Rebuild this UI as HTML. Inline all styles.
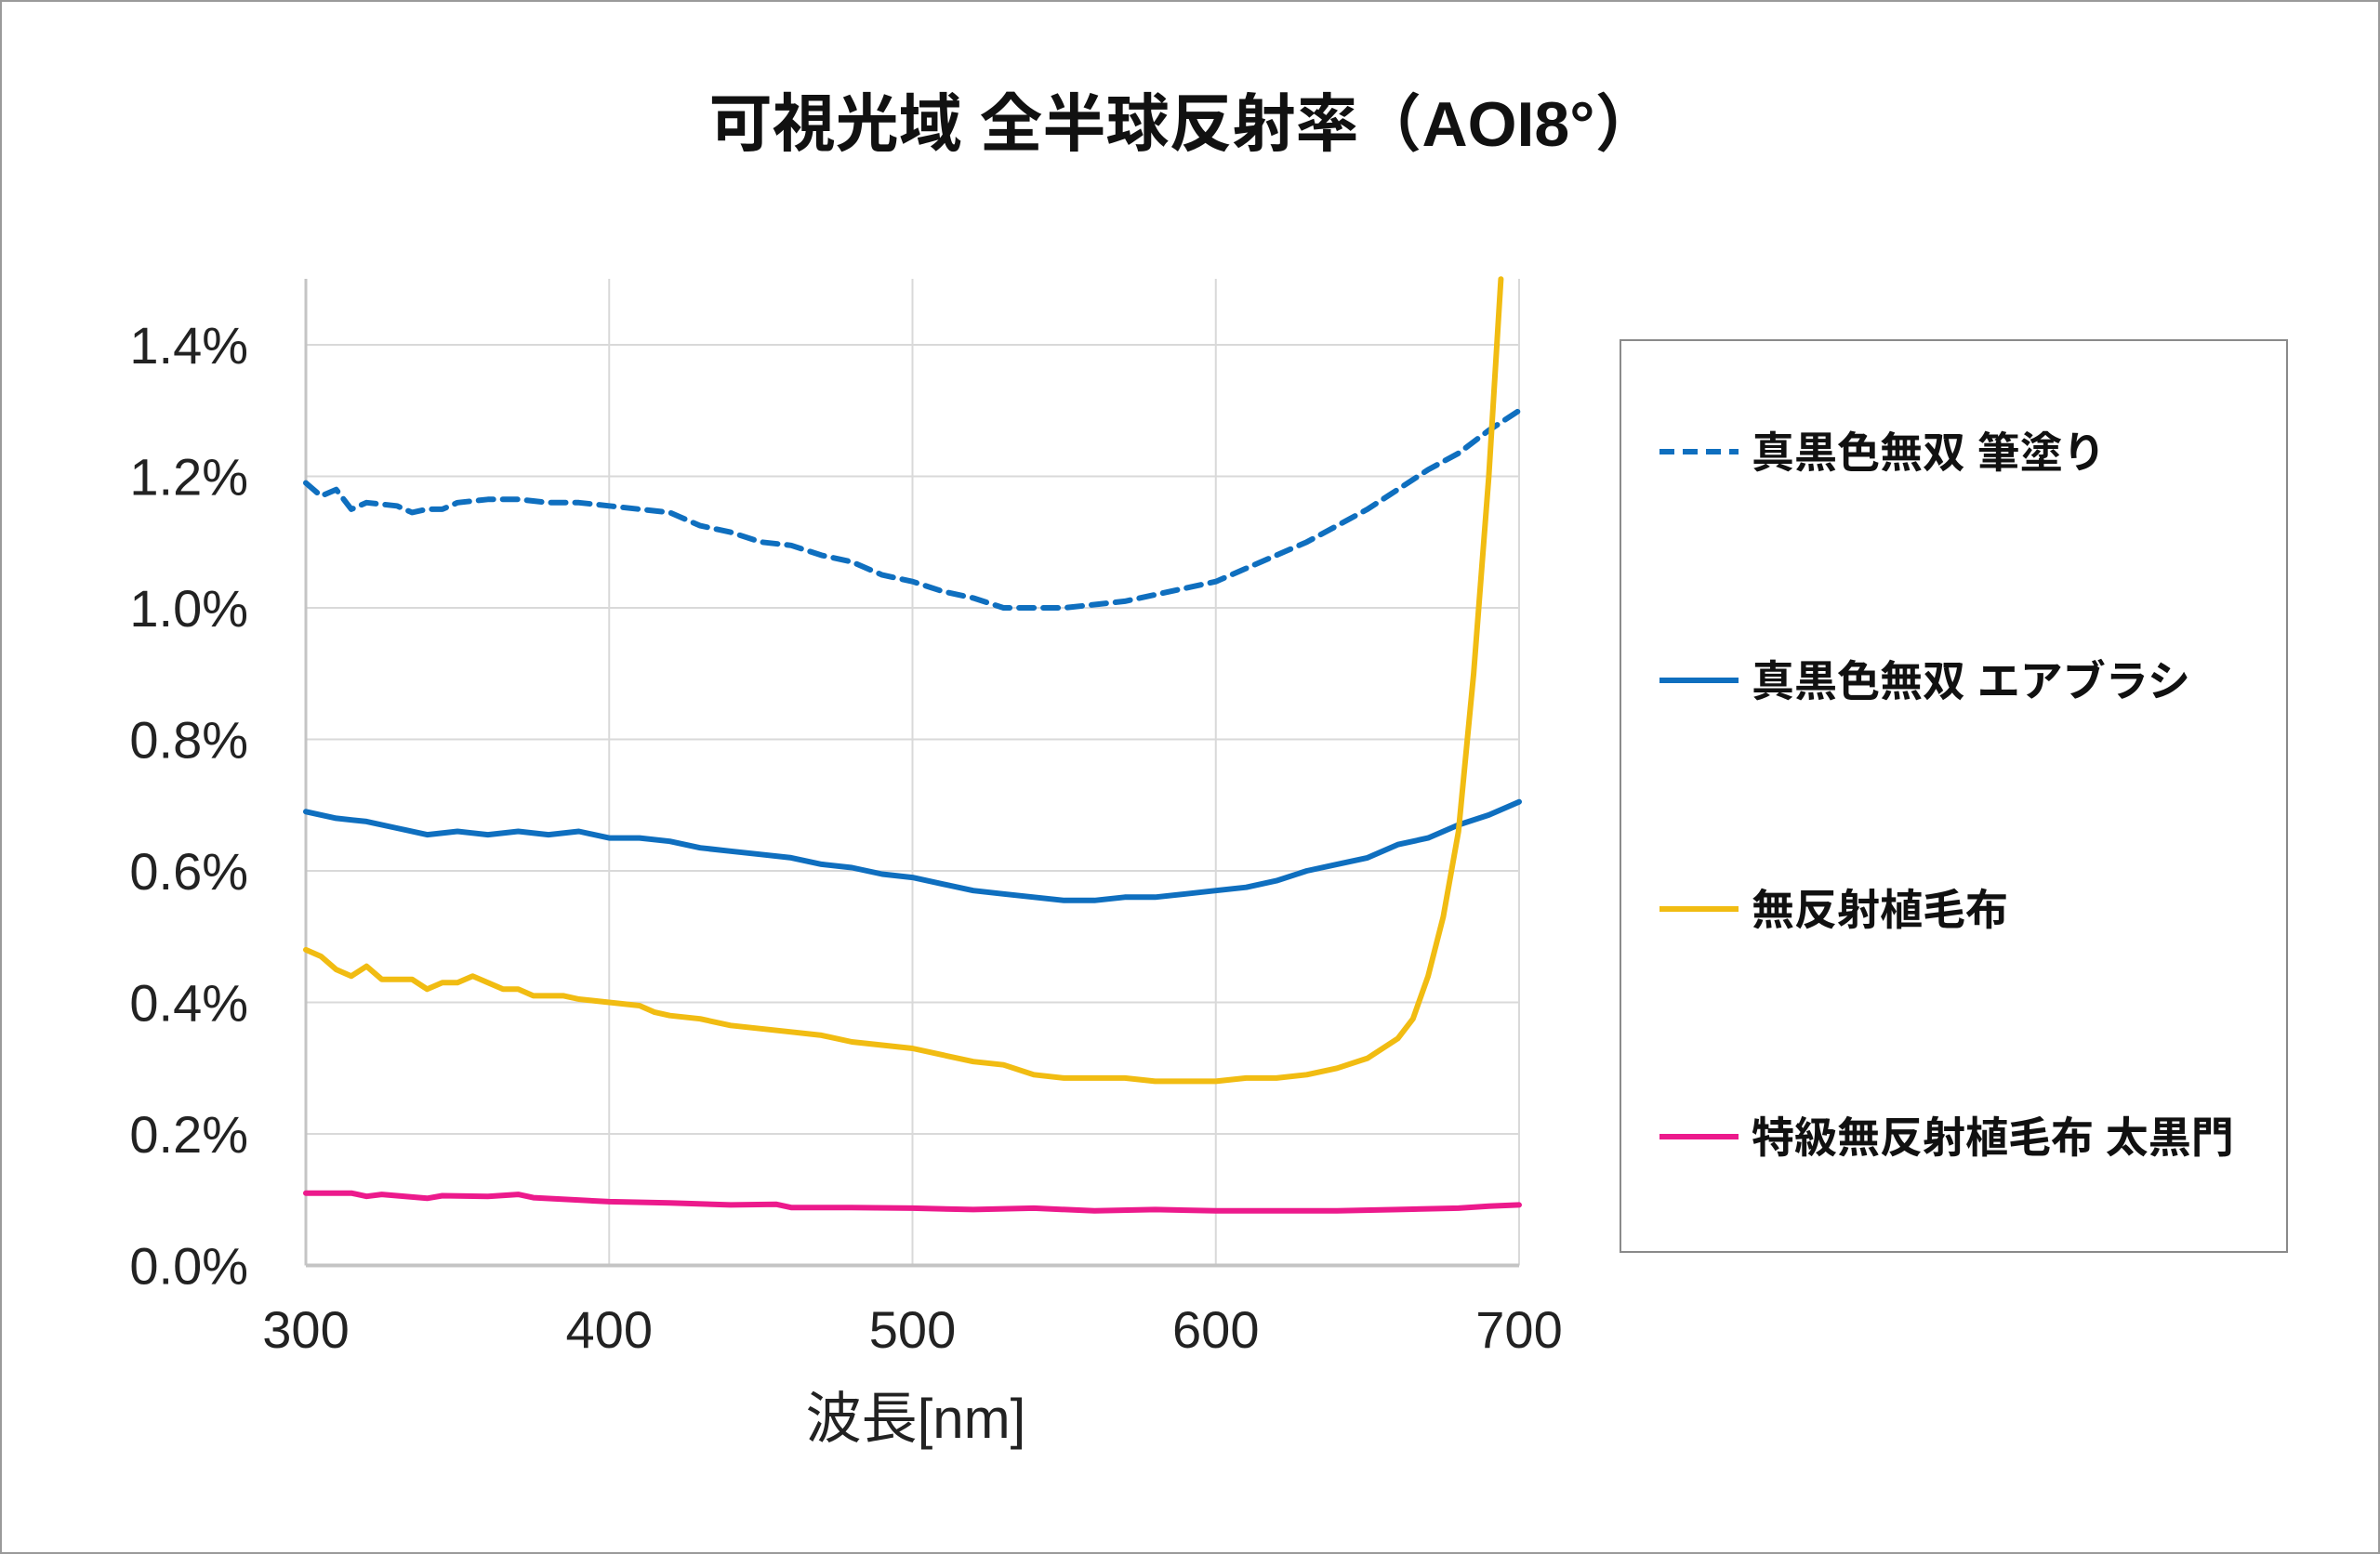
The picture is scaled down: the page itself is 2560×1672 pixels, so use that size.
<!DOCTYPE html>
<html><head><meta charset="utf-8"><style>
html,body{margin:0;padding:0;background:#fff}
svg{display:block}
</style></head><body>
<svg id="s" width="2560" height="1672" xmlns="http://www.w3.org/2000/svg" font-family="'Liberation Sans','Noto Sans CJK JP',sans-serif">
<rect x="1" y="1" width="2558" height="1670" fill="#fff" stroke="#9a9a9a" stroke-width="2"/>
<text x="1273" y="157" text-anchor="middle" font-size="68" font-weight="bold" fill="#111">可視光域 全半球反射率（AOI8°）</text>
<g id="grid" stroke="#d9d9d9" stroke-width="2"></g>
<g id="lbl" font-size="56" fill="#222"></g>
<text x="985" y="1547" text-anchor="middle" font-size="60" fill="#222">波長[nm]</text>
<g id="series" fill="none" stroke-linejoin="round" stroke-linecap="round"></g>
<rect x="1743" y="366" width="717" height="981" fill="none" stroke="#8a8a8a" stroke-width="2"/>
<g font-size="46" font-weight="bold" fill="#111">
<line x1="1785" y1="486" x2="1870" y2="486" stroke="#0f6fbf" stroke-width="6" stroke-dasharray="16,9"/>
<text x="1884" y="503">真黒色無双 筆塗り</text>
<line x1="1785" y1="732" x2="1870" y2="732" stroke="#0f6fbf" stroke-width="6"/>
<text x="1884" y="749">真黒色無双 エアブラシ</text>
<line x1="1785" y1="978" x2="1870" y2="978" stroke="#f1bc12" stroke-width="6"/>
<text x="1884" y="995">無反射植毛布</text>
<line x1="1785" y1="1223" x2="1870" y2="1223" stroke="#ec1a8c" stroke-width="6"/>
<text x="1884" y="1240">特級無反射植毛布 太黒門</text>
</g>
</svg>
<script>
var NS="http://www.w3.org/2000/svg";
var L=329,R=1634,Y0=1361.5,K=707.5;
function X(n){return L+(n-300)*(R-L)/400}
function Y(v){return Y0-v*K}
function el(t,a,p){var e=document.createElementNS(NS,t);for(var k in a)e.setAttribute(k,a[k]);p.appendChild(e);return e}
var g=document.getElementById('grid'),lb=document.getElementById('lbl');
for(var i=1;i<=7;i++){el('line',{x1:L,x2:R,y1:Y(i*0.2),y2:Y(i*0.2)},g);}
for(var n=400;n<=700;n+=100){el('line',{x1:X(n),x2:X(n),y1:300,y2:Y0},g);}
el('line',{x1:L,x2:L,y1:300,y2:Y0,stroke:'#c4c4c4','stroke-width':3},g);
el('line',{x1:L,x2:R,y1:Y0,y2:Y0,stroke:'#c4c4c4','stroke-width':4},g);
for(var i=0;i<=7;i++){var t=el('text',{x:267,y:Y(i*0.2)+20,'text-anchor':'end'},lb);t.textContent=(i*0.2).toFixed(1)+'%';}
for(var n=300;n<=700;n+=100){var t=el('text',{x:X(n),y:1450,'text-anchor':'middle'},lb);t.textContent=n;}
var S=[
{c:'#0f6fbf',d:'16,10',p:[300,1.19,305,1.17,310,1.18,315,1.15,320,1.16,330,1.155,335,1.145,340,1.15,345,1.15,350,1.16,360,1.165,370,1.165,380,1.16,390,1.16,400,1.155,410,1.15,420,1.145,430,1.125,440,1.115,450,1.10,460,1.095,470,1.08,480,1.07,490,1.05,500,1.04,510,1.025,520,1.015,530,1.0,540,1.0,550,1.0,560,1.005,570,1.01,580,1.02,590,1.03,600,1.04,610,1.06,620,1.08,630,1.10,640,1.125,650,1.15,660,1.18,670,1.21,680,1.235,690,1.27,700,1.30]},
{c:'#0f6fbf',p:[300,0.69,310,0.68,320,0.675,330,0.665,340,0.655,350,0.66,360,0.655,370,0.66,380,0.655,390,0.66,400,0.65,410,0.65,420,0.645,430,0.635,440,0.63,450,0.625,460,0.62,470,0.61,480,0.605,490,0.595,500,0.59,510,0.58,520,0.57,530,0.565,540,0.56,550,0.555,560,0.555,570,0.56,580,0.56,590,0.565,600,0.57,610,0.575,620,0.585,630,0.60,640,0.61,650,0.62,660,0.64,670,0.65,680,0.67,690,0.685,700,0.705]},
{c:'#f1bc12',p:[300,0.48,305,0.47,310,0.45,315,0.44,320,0.455,325,0.435,335,0.435,340,0.42,345,0.43,350,0.43,355,0.44,360,0.43,365,0.42,370,0.42,375,0.41,385,0.41,390,0.405,400,0.40,410,0.395,415,0.385,420,0.38,430,0.375,440,0.365,450,0.36,460,0.355,470,0.35,480,0.34,490,0.335,500,0.33,510,0.32,520,0.31,530,0.305,540,0.29,550,0.285,560,0.285,570,0.285,580,0.28,590,0.28,600,0.28,610,0.285,620,0.285,630,0.29,640,0.30,650,0.315,660,0.345,665,0.375,670,0.44,675,0.53,680,0.66,685,0.9,690,1.2,694,1.5]},
{c:'#ec1a8c',p:[300,0.11,315,0.11,320,0.105,325,0.108,340,0.102,345,0.106,360,0.105,370,0.108,375,0.103,400,0.097,420,0.095,440,0.092,455,0.093,460,0.088,480,0.088,500,0.087,520,0.085,540,0.087,560,0.083,580,0.085,600,0.083,640,0.083,660,0.085,680,0.087,690,0.09,700,0.092]}
];
var sg=document.getElementById('series');
S.forEach(function(s){var pts=[];for(var i=0;i<s.p.length;i+=2)pts.push(X(s.p[i]).toFixed(1)+','+Y(s.p[i+1]).toFixed(1));
var a={points:pts.join(' '),stroke:s.c,'stroke-width':6};if(s.d)a['stroke-dasharray']=s.d;el('polyline',a,sg);});
</script>
</body></html>
